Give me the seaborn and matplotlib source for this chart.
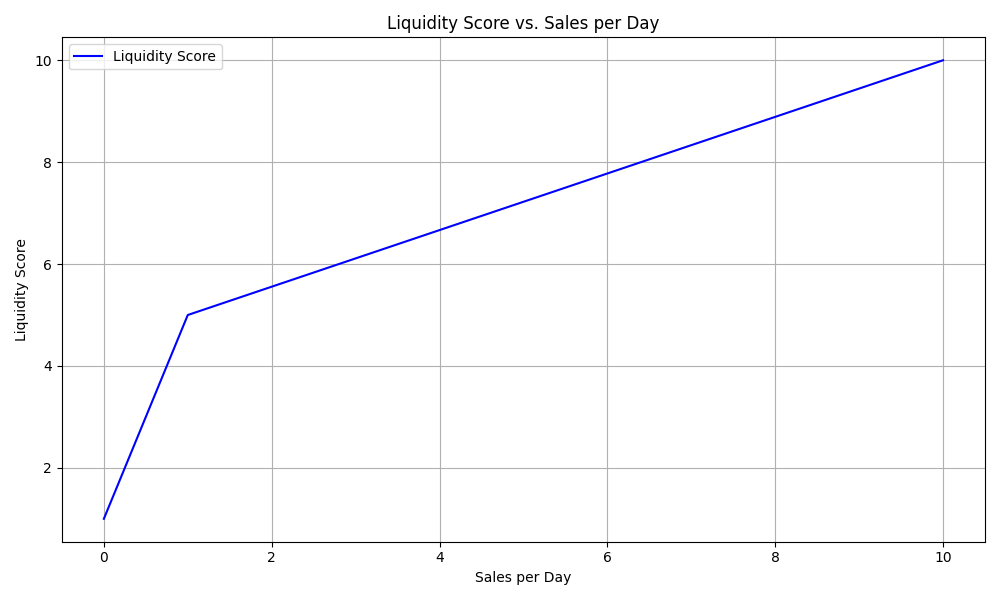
import matplotlib
matplotlib.use("Agg")
import matplotlib.pyplot as plt
import seaborn as sns
import pandas as pd

sales_per_day = [0, 1, 10]
liquidity_score = [1, 5, 10]

df = pd.DataFrame({"Sales per Day": sales_per_day, "Liquidity Score": liquidity_score})

fig, ax = plt.subplots(figsize=(10, 6), dpi=100)
sns.lineplot(data=df, x="Sales per Day", y="Liquidity Score", color="blue",
             label="Liquidity Score", ax=ax)
ax.set_title("Liquidity Score vs. Sales per Day")
ax.set_xlabel("Sales per Day")
ax.set_ylabel("Liquidity Score")
ax.grid(True)
ax.legend(loc="upper left")
fig.tight_layout()
fig.savefig("out.png")
